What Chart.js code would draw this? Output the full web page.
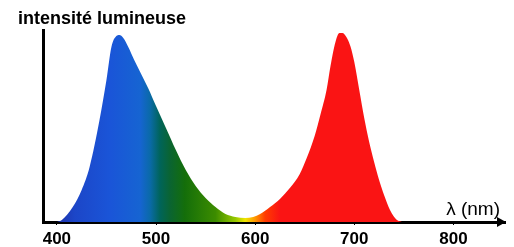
<!DOCTYPE html>
<html>
<head>
<meta charset="utf-8">
<script src="https://cdn.jsdelivr.net/npm/chart.js@4.4.1/dist/chart.umd.min.js"></script>
<style>
  html, body { margin: 0; padding: 0; background: #fff; }
  #wrap { width: 514px; height: 247px; }
</style>
</head>
<body>
<div id="wrap"><canvas id="spectre"></canvas></div>
<script>
// longueurs d'onde (nm) et intensité relative
var lambdas = [400, 405, 416, 425, 433, 443, 450, 455, 460, 463, 467, 472, 478, 485, 492, 500, 510, 520, 530, 540, 550,
  560, 570, 580, 590, 598, 605, 615, 625, 635, 645, 652, 660, 666, 672, 676, 681, 685, 688, 692, 696, 700, 705, 710,
  715, 720, 725, 730, 736, 743, 748];
var intensite = [0, 1, 7.5, 16, 27.5, 51, 71, 87.5, 93, 93.5, 92, 87.5, 81, 74, 67, 58, 47, 36, 26, 18, 12,
  7.5, 4, 2.5, 2, 2.5, 4, 7.5, 11.5, 17, 24, 32, 43, 54, 66, 78, 90, 94.5, 94.5, 92.5, 88, 80, 66, 52,
  40, 30, 21, 13.5, 6, 1, 0];
var xTicks = [400, 500, 600, 700, 800];

// couleurs du spectre
var stopNm = [400, 418, 454, 484, 494, 504, 514, 529, 560, 580, 590, 600, 610, 625, 760];
var stopCol = ['#1e32aa', '#1c46c8', '#1a55d8', '#1664d2', '#0a6aa8', '#00645a', '#0a6432', '#146e0a',
  '#3c8c00', '#96c800', '#f0e600', '#ff9600', '#ff3c00', '#fa1414', '#fa1414'];

var FONT = '"Liberation Sans", Arial, sans-serif';

function spectreFill(ctx) {
  var chart = ctx.chart;
  if (!chart.chartArea) return '#1a55d8';
  var x = chart.scales.x;
  var a = x.getPixelForValue(stopNm[0]);
  var b = x.getPixelForValue(stopNm[stopNm.length - 1]);
  var g = chart.ctx.createLinearGradient(a, 0, b, 0);
  for (var i = 0; i < stopNm.length; i++) {
    g.addColorStop((stopNm[i] - stopNm[0]) / (stopNm[stopNm.length - 1] - stopNm[0]), stopCol[i]);
  }
  return g;
}

var decor = {
  id: 'decor',
  afterDraw: function (chart) {
    var c = chart.ctx, area = chart.chartArea;
    c.save();
    // flèche de l'axe des x
    c.fillStyle = '#000';
    c.beginPath();
    c.moveTo(area.right + 1, area.bottom);
    c.lineTo(area.right - 8, area.bottom - 5);
    c.lineTo(area.right - 8, area.bottom + 5);
    c.closePath();
    c.fill();
    // textes
    c.fillStyle = '#000';
    c.textBaseline = 'alphabetic';
    c.font = 'bold 18px ' + FONT;
    c.fillText('intensité lumineuse', 18, 24);
    c.font = '19px ' + FONT;
    c.textAlign = 'right';
    c.fillText('λ (nm)', 500, 215);
    c.restore();
  }
};

var config = {
  type: 'line',
  data: {
    datasets: [{
      data: lambdas.map(function (l, i) { return { x: l, y: intensite[i] }; }),
      fill: 'origin',
      backgroundColor: spectreFill,
      borderWidth: 0,
      borderColor: 'rgba(0,0,0,0)',
      pointRadius: 0,
      cubicInterpolationMode: 'monotone'
    }]
  },
  options: {
    responsive: true,
    maintainAspectRatio: false,
    animation: false,
    layout: { padding: { top: 30, right: 9, left: 0, bottom: 0 } },
    plugins: { legend: { display: false }, tooltip: { enabled: false } },
    scales: {
      x: {
        type: 'linear',
        min: 386,
        max: 852,
        afterBuildTicks: function (s) { s.ticks = xTicks.map(function (v) { return { value: v }; }); },
        afterFit: function (s) { s.height = 25; },
        grid: { display: true, drawOnChartArea: false, drawTicks: true, tickLength: 3, color: '#000', lineWidth: 1 },
        border: { display: true, color: '#000', width: 3 },
        ticks: { color: '#000', padding: 4, maxRotation: 0, font: { family: FONT, size: 17, weight: 'bold' } }
      },
      y: {
        min: 0,
        max: 96,
        afterFit: function (s) { s.width = 43; },
        grid: { display: false },
        ticks: { display: false },
        border: { display: true, color: '#000', width: 3 }
      }
    }
  },
  plugins: [decor]
};

new Chart(document.getElementById('spectre'), config);
</script>
</body>
</html>
